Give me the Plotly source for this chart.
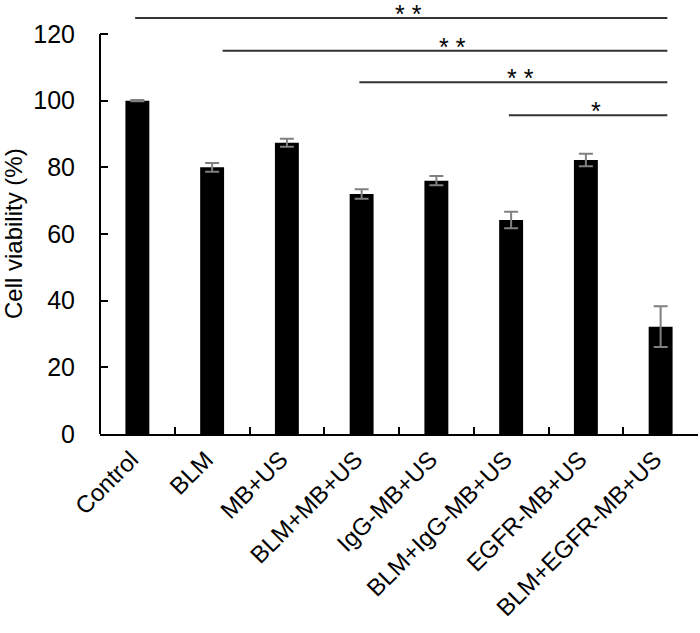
import plotly.graph_objects as go

groups = ["Control", "BLM", "MB+US", "BLM+MB+US", "IgG-MB+US",
          "BLM+IgG-MB+US", "EGFR-MB+US", "BLM+EGFR-MB+US"]
viability = [100, 80, 87.4, 72, 76, 64.2, 82.2, 32.2]
sd = [0.2, 1.3, 1.2, 1.4, 1.4, 2.5, 1.9, 6.1]

# significance brackets: (start group index, end group index, level, label)
sig_start = [0, 1, 3, 5]
sig_end = [7, 7, 7, 7]
sig_level = [124.8, 115.0, 105.5, 95.6]
sig_label = ["* *", "* *", "* *", "*"]

FONT = "Liberation Sans, Arial, sans-serif"

fig = go.Figure()
fig.add_trace(go.Bar(
    x=groups,
    y=viability,
    marker=dict(color="black", line=dict(width=0)),
    error_y=dict(type="data", array=sd, visible=True,
                 color="#808080", thickness=2, width=7),
    width=0.32,
))

shapes = [
    # y axis line stops at 120
    dict(type="line", xref="paper", yref="y", x0=0, x1=0, y0=0, y1=120,
         line=dict(color="black", width=2)),
]
annotations = [
    # y title, centred on the 0-120 axis line
    dict(text="Cell viability (%)", xref="paper", yref="y", x=0, y=60,
         xanchor="center", yanchor="middle", xshift=-87, textangle=-90,
         showarrow=False, font=dict(family=FONT, size=24, color="black")),
]
for s, e, lvl, lab in zip(sig_start, sig_end, sig_level, sig_label):
    x0 = s + (0.14 if s == 1 else -0.03)
    x1 = e + 0.09
    shapes.append(dict(type="line", xref="x", yref="y", x0=x0, x1=x1,
                       y0=lvl, y1=lvl, line=dict(color="#333333", width=2)))
    annotations.append(dict(x=(x0 + x1) / 2 + 0.1, y=lvl, xref="x", yref="y",
                            text=lab, showarrow=False, yanchor="bottom",
                            yshift=-12,
                            font=dict(family=FONT, size=25, color="black")))

fig.update_layout(
    width=700, height=633,
    margin=dict(l=100, r=2, t=2, b=199),
    paper_bgcolor="white", plot_bgcolor="white",
    showlegend=False,
    font=dict(family=FONT, size=24, color="black"),
    shapes=shapes,
    annotations=annotations,
)
fig.update_xaxes(
    showline=True, linecolor="black", linewidth=2,
    ticks="inside", tickson="boundaries", ticklen=7, tickwidth=2,
    tickcolor="black", tickangle=-45, showgrid=False, automargin=False,
    ticklabelshift=-6,
    tickfont=dict(family=FONT, size=24),
)
fig.update_yaxes(
    range=[0, 129.6], tickvals=[0, 20, 40, 60, 80, 100, 120],
    showline=False, ticks="inside", ticklen=8, tickwidth=2,
    tickcolor="black", showgrid=False, zeroline=False, automargin=False,
    ticklabelstandoff=24,
    tickfont=dict(family=FONT, size=25),
)

# drop the default 8px page margin so the figure sits at the window's corner
fig.write_html("out.html", config={"displayModeBar": False},
               post_script="document.body.style.margin='0';")
